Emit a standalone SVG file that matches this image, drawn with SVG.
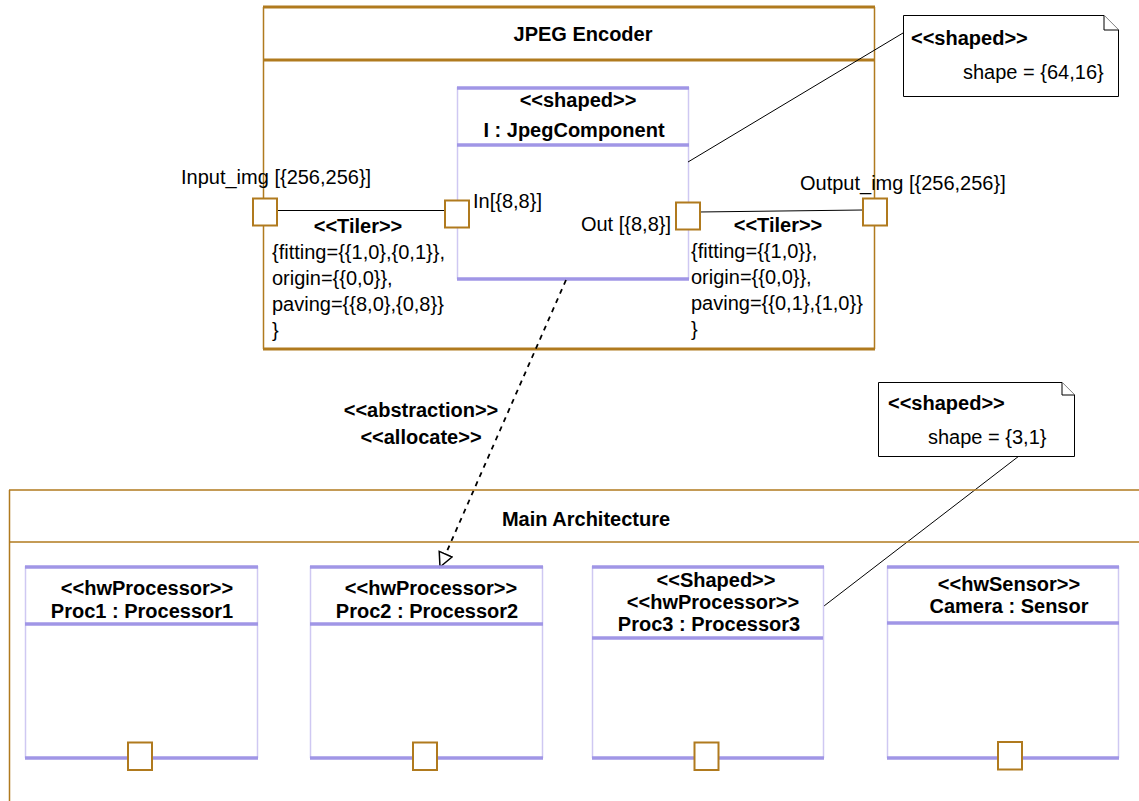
<svg xmlns="http://www.w3.org/2000/svg" width="1139" height="801" viewBox="0 0 1139 801">
<defs>
<style>
text{font-family:"Liberation Sans",Arial,sans-serif;font-size:20px;fill:#000}
.b{font-weight:bold}
.m{text-anchor:middle}
.frame{fill:none;stroke:#b07a1e;stroke-width:1.5}
.frameT{stroke:#b07a1e;stroke-width:3;fill:none}
.side{stroke:#cfc8f2;stroke-width:1.5;fill:none}
.pl{stroke:#a096e6;stroke-width:3.5;fill:none}
.port{fill:#fff;stroke:#b07a1e;stroke-width:2}
.ln{stroke:#000;stroke-width:1;fill:none}
.dash{stroke:#000;stroke-width:1.8;fill:none;stroke-dasharray:5,5}
.note{fill:#fff;stroke:#000;stroke-width:1}
</style>
<marker id="tri" markerWidth="18" markerHeight="18" refX="15" refY="8" orient="auto" markerUnits="userSpaceOnUse">
<path d="M1,1 L15,8 L1,15 Z" fill="#fff" stroke="#000" stroke-width="1.5"/>
</marker>
</defs>
<rect width="1139" height="801" fill="#fff"/>

<g id="jpeg-encoder">
<line class="frame" x1="263.5" y1="7" x2="263.5" y2="349"/>
<line class="frame" x1="874.5" y1="7" x2="874.5" y2="349"/>
<line class="frameT" x1="263" y1="7" x2="875" y2="7"/>
<line class="frameT" x1="263" y1="60" x2="875" y2="60"/>
<line class="frameT" x1="263" y1="349" x2="875" y2="349"/>
<text class="b m" x="583" y="41">JPEG Encoder</text>
</g>

<g id="jpeg-component">
<line class="side" x1="457.5" y1="87" x2="457.5" y2="279"/>
<line class="side" x1="688.5" y1="87" x2="688.5" y2="279"/>
<line class="pl" x1="457" y1="88" x2="689" y2="88"/>
<line class="pl" x1="457" y1="145" x2="689" y2="145"/>
<line class="pl" x1="457" y1="279" x2="689" y2="279"/>
<text class="b m" x="578" y="107">&lt;&lt;shaped&gt;&gt;</text>
<text class="b m" x="574" y="137">I : JpegComponent</text>
</g>

<g id="connectors">
<line class="ln" x1="271" y1="210.5" x2="445" y2="210.5"/>
<line class="ln" x1="698" y1="212" x2="863" y2="210"/>
<line class="ln" x1="688" y1="162" x2="903" y2="33"/>
<line class="ln" x1="1019" y1="456" x2="824" y2="606"/>
<line class="dash" x1="566" y1="280" x2="440" y2="567" marker-end="url(#tri)"/>
</g>

<g id="port-input">
<rect class="port" x="253" y="198.5" width="24" height="27"/>
<text x="181" y="184">Input_img [{256,256}]</text>
</g>
<g id="port-in">
<rect class="port" x="445" y="200.5" width="24" height="27"/>
<text x="473" y="208">In[{8,8}]</text>
</g>
<g id="port-out">
<rect class="port" x="676" y="202.5" width="24" height="27"/>
<text x="671" y="231" text-anchor="end">Out [{8,8}]</text>
</g>
<g id="port-output">
<rect class="port" x="863" y="198.5" width="24" height="27"/>
<text x="800" y="190">Output_img [{256,256}]</text>
</g>

<g id="tiler-left">
<text class="b m" x="358" y="233">&lt;&lt;Tiler&gt;&gt;</text>
<text x="272" y="259">{fitting={{1,0},{0,1}},</text>
<text x="272" y="285">origin={{0,0}},</text>
<text x="272" y="311">paving={{8,0},{0,8}}</text>
<text x="272" y="337">}</text>
</g>
<g id="tiler-right">
<text class="b m" x="778" y="232">&lt;&lt;Tiler&gt;&gt;</text>
<text x="691" y="258">{fitting={{1,0}},</text>
<text x="691" y="284">origin={{0,0}},</text>
<text x="691" y="310">paving={{0,1},{1,0}}</text>
<text x="691" y="336">}</text>
</g>

<g id="note-1">
<path class="note" d="M903.5,15.5 H1104 L1118.5,30 V96.5 H903.5 Z"/>
<path class="note" d="M1104,15.5 V30 H1118.5"/>
<text class="b" x="911" y="45">&lt;&lt;shaped&gt;&gt;</text>
<text x="963" y="79">shape = {64,16}</text>
</g>

<g id="abstraction-label">
<text class="b m" x="421" y="417">&lt;&lt;abstraction&gt;&gt;</text>
<text class="b m" x="421" y="444">&lt;&lt;allocate&gt;&gt;</text>
</g>

<g id="note-2">
<path class="note" d="M878.5,382.5 H1062 L1074.5,395 V456.5 H878.5 Z"/>
<path class="note" d="M1062,382.5 V395 H1074.5"/>
<text class="b" x="888" y="410">&lt;&lt;shaped&gt;&gt;</text>
<text x="928" y="444">shape = {3,1}</text>
</g>

<g id="main-architecture">
<line class="frame" x1="9.5" y1="490" x2="9.5" y2="801"/>
<line class="frame" x1="9" y1="490" x2="1139" y2="490" stroke-width="2"/>
<line class="frame" x1="9" y1="542" x2="1139" y2="542" stroke-width="2"/>
<text class="b m" x="586" y="526">Main Architecture</text>
</g>

<g id="proc1">
<line class="side" x1="25.5" y1="566" x2="25.5" y2="758"/>
<line class="side" x1="257.5" y1="566" x2="257.5" y2="758"/>
<line class="pl" x1="25" y1="567" x2="258" y2="567"/>
<line class="pl" x1="25" y1="624" x2="258" y2="624"/>
<line class="pl" x1="25" y1="758" x2="258" y2="758"/>
<text class="b m" x="147" y="595">&lt;&lt;hwProcessor&gt;&gt;</text>
<text class="b m" x="142" y="618">Proc1 : Processor1</text>
<rect class="port" x="128" y="742.5" width="24" height="27.5"/>
</g>

<g id="proc2">
<line class="side" x1="310.5" y1="566" x2="310.5" y2="758"/>
<line class="side" x1="542.5" y1="566" x2="542.5" y2="758"/>
<line class="pl" x1="310" y1="567" x2="543" y2="567"/>
<line class="pl" x1="310" y1="624" x2="543" y2="624"/>
<line class="pl" x1="310" y1="758" x2="543" y2="758"/>
<text class="b m" x="431" y="595">&lt;&lt;hwProcessor&gt;&gt;</text>
<text class="b m" x="427" y="618">Proc2 : Processor2</text>
<rect class="port" x="413" y="742.5" width="24" height="27.5"/>
</g>

<g id="proc3">
<line class="side" x1="592.5" y1="566" x2="592.5" y2="758"/>
<line class="side" x1="823.5" y1="566" x2="823.5" y2="758"/>
<line class="pl" x1="592" y1="567" x2="824" y2="567"/>
<line class="pl" x1="592" y1="638" x2="823" y2="638"/>
<line class="pl" x1="592" y1="758" x2="824" y2="758"/>
<text class="b m" x="716" y="587">&lt;&lt;Shaped&gt;&gt;</text>
<text class="b m" x="713" y="609">&lt;&lt;hwProcessor&gt;&gt;</text>
<text class="b m" x="709" y="631">Proc3 : Processor3</text>
<rect class="port" x="694.5" y="742.5" width="24" height="27.5"/>
</g>

<g id="camera">
<line class="side" x1="887.5" y1="566" x2="887.5" y2="758"/>
<line class="side" x1="1118.5" y1="566" x2="1118.5" y2="758"/>
<line class="pl" x1="887" y1="567" x2="1119" y2="567"/>
<line class="pl" x1="887" y1="623" x2="1119" y2="623"/>
<line class="pl" x1="887" y1="758" x2="1119" y2="758"/>
<text class="b m" x="1009" y="591">&lt;&lt;hwSensor&gt;&gt;</text>
<text class="b m" x="1009" y="613">Camera : Sensor</text>
<rect class="port" x="998" y="742" width="24" height="27.5"/>
</g>
</svg>
